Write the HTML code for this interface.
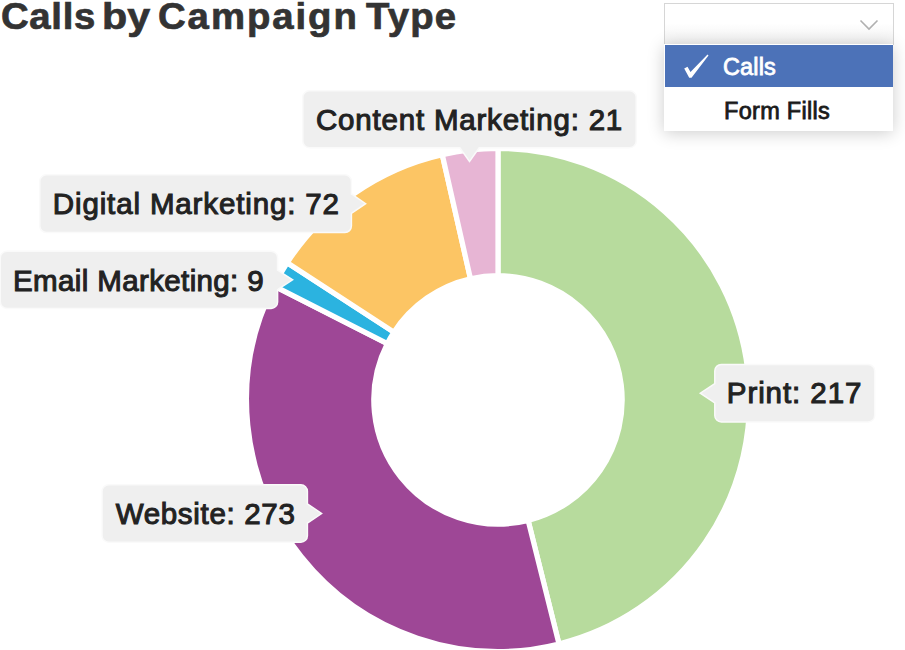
<!DOCTYPE html>
<html><head><meta charset="utf-8">
<style>
*{margin:0;padding:0;box-sizing:border-box}
html,body{width:905px;height:650px;overflow:hidden;background:#fff}
body{position:relative;font-family:"Liberation Sans",sans-serif}
.tw{position:absolute;top:-1.4px;font-size:36.5px;font-weight:700;color:#333;-webkit-text-stroke:0.7px #333;white-space:nowrap;transform-origin:0 0;line-height:36.5px}
svg.chart{position:absolute;left:0;top:0}
.lb{position:absolute;font-size:29.5px;font-weight:400;color:#222;-webkit-text-stroke:1.05px #222;white-space:nowrap;line-height:29.5px}
.dd{position:absolute;left:664px;top:2.6px;width:230px;height:42.4px;border:1px solid #d6d6d6;background:linear-gradient(to bottom,#fff 0,#fff 19px,#f1f1f1 41px)}
.menu{position:absolute;left:664px;top:44px;width:229px;height:86.6px;background:#fff;box-shadow:0 2px 16px rgba(0,0,0,.2)}
.menu .sel{position:absolute;left:1px;top:1px;width:228px;height:42.3px;background:#4c72b8}
.menu .t{position:absolute;font-size:23.5px;line-height:23.5px;white-space:nowrap;-webkit-text-stroke:0.8px currentColor}
</style></head><body>
<div class="tw" style="left:0.95px;transform:scaleX(1.05);letter-spacing:0.655px">Calls</div><div class="tw" style="left:101.7px;transform:scaleX(1.13)">by</div><div class="tw" style="left:157.95px;transform:scaleX(1.05);letter-spacing:1.85px">Campaign</div><div class="tw" style="left:366px;transform:scaleX(1.05);letter-spacing:1.111px">Type</div>
<svg class="chart" width="905" height="650" viewBox="0 0 905 650">
<g stroke="#fff" stroke-width="5.2">
<path d="M498.00,148.40A251.50,251.50 0 0 1 558.97,643.90L528.11,520.39A124.20,124.20 0 0 0 498.00,275.70Z" fill="#b7db9d"/>
<path d="M558.97,643.90A251.50,251.50 0 0 1 273.81,285.92L387.29,343.61A124.20,124.20 0 0 0 528.11,520.39Z" fill="#9e4796"/>
<path d="M273.81,285.92A251.50,251.50 0 0 1 287.19,262.74L393.90,332.16A124.20,124.20 0 0 0 387.29,343.61Z" fill="#2bb3e0"/>
<path d="M287.19,262.74A251.50,251.50 0 0 1 442.28,154.65L470.48,278.79A124.20,124.20 0 0 0 393.90,332.16Z" fill="#fcc564"/>
<path d="M442.28,154.65A251.50,251.50 0 0 1 498.00,148.40L498.00,275.70A124.20,124.20 0 0 0 470.48,278.79Z" fill="#e7b5d4"/>
</g>
<g fill="#efefef" stroke="#fafafa" stroke-width="1.5">
<path d="M309.3,90.8H629.7A6.5,6.5 0 0 1 636.2,97.3V141.2A6.5,6.5 0 0 1 629.7,147.7H479.2L469.5,161.5L459.8,147.7H309.3A6.5,6.5 0 0 1 302.8,141.2V97.3A6.5,6.5 0 0 1 309.3,90.8Z"/>
<path d="M46.3,174.8H344.9A6.5,6.5 0 0 1 351.4,181.3V193.95L365.6,203.65L351.4,213.35V226A6.5,6.5 0 0 1 344.9,232.5H46.3A6.5,6.5 0 0 1 39.8,226V181.3A6.5,6.5 0 0 1 46.3,174.8Z"/>
<path d="M6.8,251.3H271.1A6.5,6.5 0 0 1 277.6,257.8V270.15L292.6,279.85L277.6,289.55V301.9A6.5,6.5 0 0 1 271.1,308.4H6.8A6.5,6.5 0 0 1 0.3,301.9V257.8A6.5,6.5 0 0 1 6.8,251.3Z"/>
<path d="M721.3,364.5H868.2A6.5,6.5 0 0 1 874.7,371V415.4A6.5,6.5 0 0 1 868.2,421.9H721.3A6.5,6.5 0 0 1 714.8,415.4V402.9L700.3,393.2L714.8,383.5V371A6.5,6.5 0 0 1 721.3,364.5Z"/>
<path d="M108.6,484.8H300.9A6.5,6.5 0 0 1 307.4,491.3V503.8L321.6,513.5L307.4,523.2V535.7A6.5,6.5 0 0 1 300.9,542.2H108.6A6.5,6.5 0 0 1 102.1,535.7V491.3A6.5,6.5 0 0 1 108.6,484.8Z"/>
</g>
</svg>
<div class="lb" style="left:316px;top:104.8px;letter-spacing:0.8px">Content Marketing: 21</div>
<div class="lb" style="left:52.8px;top:188.8px;letter-spacing:0.865px">Digital Marketing: 72</div>
<div class="lb" style="left:13px;top:265.5px;letter-spacing:0.376px">Email Marketing: 9</div>
<div class="lb" style="left:726.8px;top:378.4px;letter-spacing:0.922px">Print: 217</div>
<div class="lb" style="left:115.7px;top:498.7px;letter-spacing:0.682px">Website: 273</div>
<div class="dd"><svg style="position:absolute;left:194px;top:15.4px" width="22" height="14"><polyline points="1.5,1.5 10,10 18.5,1.5" fill="none" stroke="#b0b0b0" stroke-width="1.6"/></svg></div>
<div class="menu">
<div class="sel"></div>
<svg style="position:absolute;left:0;top:1px" width="60" height="42"><path d="M20.2,23.5 L23.5,21.8 L26.5,27 L43.5,9.5 L44.5,10.5 L27.5,32.8 L25.2,32.8 Z" fill="#fff"/></svg>
<div class="t" style="left:59px;top:12.3px;color:#fff;letter-spacing:0.15px">Calls</div>
<div class="t" style="left:60px;top:55.8px;color:#1a1a1a;letter-spacing:0.3px">Form Fills</div>
</div>
</body></html>
